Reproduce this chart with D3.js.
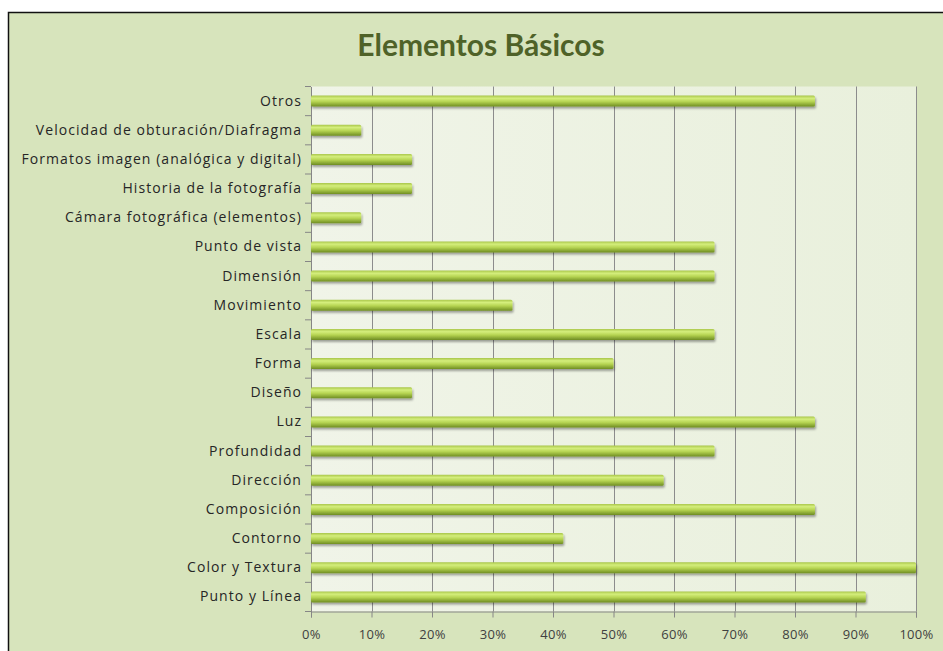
<!DOCTYPE html>
<html><head><meta charset="utf-8">
<script src="https://cdn.jsdelivr.net/npm/d3@7/dist/d3.min.js"></script>
<style>html,body{margin:0;padding:0;background:#fff;overflow:hidden}</style>
</head><body>
<svg id="c" width="943" height="651"></svg>
<script>
const categories = ["Otros","Velocidad de obturación/Diafragma","Formatos imagen (analógica y digital)","Historia de la fotografía","Cámara fotográfica (elementos)","Punto de vista","Dimensión","Movimiento","Escala","Forma","Diseño","Luz","Profundidad","Dirección","Composición","Contorno","Color y Textura","Punto y Línea"];
const values = [0.833,0.083,0.167,0.167,0.083,0.667,0.667,0.333,0.667,0.5,0.167,0.833,0.667,0.583,0.833,0.417,1.0,0.917];
const ticks = [0,0.1,0.2,0.3,0.4,0.5,0.6,0.7,0.8,0.9,1.0];
const title = "Elementos Básicos";

const svg = d3.select("#c");
const defs = svg.append("defs");
const pg = defs.append("linearGradient").attr("id","pg").attr("x1",0).attr("y1",0).attr("x2",1).attr("y2",0);
pg.append("stop").attr("offset",0).attr("stop-color","#f0f4e8");
pg.append("stop").attr("offset",1).attr("stop-color","#e9f0dc");
const bar = defs.append("linearGradient").attr("id","bar").attr("x1",0).attr("y1",0).attr("x2",0).attr("y2",1);
bar.append("stop").attr("offset",0).attr("stop-color","#a9c64a");
bar.append("stop").attr("offset",0.25).attr("stop-color","#d4ee7c");
bar.append("stop").attr("offset",0.55).attr("stop-color","#b6d452");
bar.append("stop").attr("offset",1).attr("stop-color","#6f8d22");
const sh = defs.append("filter").attr("id","sh").attr("x","-5%").attr("y","-50%").attr("width","110%").attr("height","250%");
sh.append("feDropShadow").attr("dx",1).attr("dy",2).attr("stdDeviation",1.2).attr("flood-color","#000").attr("flood-opacity",0.35);

svg.append("rect").attr("x",8.5).attr("y",12.5).attr("width",950).attr("height",650)
  .attr("fill","#d7e4bc").attr("stroke","#111").attr("stroke-width",1.5);

const m = {left:311, right:916, top:86.5, bottom:611.5};
const x = d3.scaleLinear().domain([0,1]).range([m.left,m.right]);
const y = d3.scaleBand().domain(categories).range([m.top,m.bottom]);

svg.append("rect").attr("x",m.left).attr("y",m.top).attr("width",m.right-m.left).attr("height",m.bottom-m.top).attr("fill","url(#pg)");

svg.append("text").attr("x",481).attr("y",56).attr("text-anchor","middle")
  .attr("font-family","Lato, 'Open Sans', sans-serif").attr("font-weight","bold").attr("font-size",30)
  .attr("fill","#4f6228").text(title);

const font = "'Open Sans', Lato, sans-serif";

// gridlines
svg.append("g").selectAll("line").data(ticks.slice(1)).join("line")
  .attr("x1",d=>Math.round(x(d))+0.5).attr("x2",d=>Math.round(x(d))+0.5)
  .attr("y1",m.top).attr("y2",m.bottom).attr("stroke","#8c8c8c").attr("stroke-width",1);

// x axis
const xa = svg.append("g").attr("transform",`translate(0,${m.bottom})`)
  .call(d3.axisBottom(x).tickValues(ticks).tickFormat(d3.format(".0%")).tickSize(6).tickPadding(12));
xa.select(".domain").attr("stroke","#868686");
xa.selectAll(".tick line").attr("stroke","#868686");
xa.selectAll("text").attr("font-family",font).attr("font-size",13).attr("letter-spacing",0.3).attr("fill","#404040");

// y axis
const ya = svg.append("g").attr("transform",`translate(${m.left},0)`)
  .call(d3.axisLeft(y).tickSize(0).tickPadding(9));
ya.select(".domain").attr("stroke","#868686");
ya.selectAll("text").attr("font-family",font).attr("font-size",14).attr("letter-spacing",1.05).attr("fill","#262626");
// category separator ticks
svg.append("g").selectAll("line").data(d3.range(categories.length+1)).join("line")
  .attr("x1",m.left-6).attr("x2",m.left).attr("y1",i=>m.top+i*y.step()).attr("y2",i=>m.top+i*y.step())
  .attr("stroke","#868686");

// bars
const bh = 11;
svg.append("g").selectAll("rect").data(categories).join("rect")
  .attr("x",x(0)).attr("y",d=>y(d)+y.bandwidth()/2-bh/2)
  .attr("width",(d,i)=>x(values[i])-x(0)).attr("height",bh)
  .attr("rx",1.5)
  .attr("fill","url(#bar)").attr("filter","url(#sh)");
</script>
</body></html>
